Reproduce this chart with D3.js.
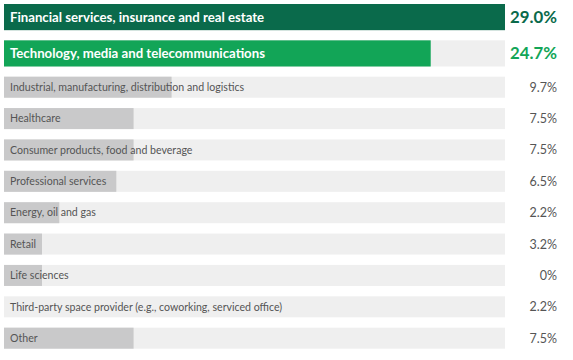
<!DOCTYPE html>
<html>
<head>
<meta charset="utf-8">
<script src="https://cdn.jsdelivr.net/npm/d3@7"></script>
<style>
  html, body { margin: 0; padding: 0; background: #ffffff; }
  svg { display: block; }
</style>
</head>
<body>
<svg id="chart" width="573" height="360"></svg>
<script>
// Categories in display order
const categories = [
  "Financial services, insurance and real estate",
  "Technology, media and telecommunications",
  "Industrial, manufacturing, distribution and logistics",
  "Healthcare",
  "Consumer products, food and beverage",
  "Professional services",
  "Energy, oil and gas",
  "Retail",
  "Life sciences",
  "Third-party space provider (e.g., coworking, serviced office)",
  "Other"
];
// Bar lengths as drawn in the reference (percent)
const barValues = [29.0, 24.7, 9.7, 7.5, 7.5, 6.5, 3.2, 2.2, 2.2, 0, 7.5];
// Value labels as printed in the reference
const valueLabels = ["29.0%", "24.7%", "9.7%", "7.5%", "7.5%", "6.5%", "2.2%", "3.2%", "0%", "2.2%", "7.5%"];
const highlightCount = 2;
const maxValue = 29.0;

const svg = d3.select("#chart");
const FONT = "Lato, 'Open Sans', sans-serif";

const x = d3.scaleLinear().domain([0, maxValue]).range([4, 505]);

const majorCats = categories.slice(0, highlightCount);
const minorCats = categories.slice(highlightCount);

const yMajor = d3.scaleBand().domain(majorCats).range([4, 66.5]).paddingInner(0.28).paddingOuter(0);
const yMinor = d3.scaleBand().domain(minorCats).range([76.7, 348.7]).paddingInner(0.33).paddingOuter(0);

const rows = categories.map((c, i) => {
  const major = i < highlightCount;
  const yS = major ? yMajor : yMinor;
  return {
    cat: c, value: barValues[i], label: valueLabels[i], major, i,
    y: yS(c), h: yS.bandwidth()
  };
});

const barFill = d => d.i === 0 ? "#0a6a4b" : (d.i === 1 ? "#12a557" : "#c9c9ca");
const labelFill = d => d.i === 0 ? "#0a6a4b" : (d.i === 1 ? "#12a557" : "#555555");

const g = svg.append("g");

// background tracks
g.selectAll("rect.track").data(rows).join("rect")
  .attr("class", "track")
  .attr("x", x(0)).attr("y", d => d.y)
  .attr("width", x(maxValue) - x(0)).attr("height", d => d.h)
  .attr("fill", "#efefef");

// value bars
g.selectAll("rect.bar").data(rows).join("rect")
  .attr("class", "bar")
  .attr("x", x(0)).attr("y", d => d.y)
  .attr("width", d => x(d.value) - x(0)).attr("height", d => d.h)
  .attr("fill", barFill);

// category labels inside bars
g.selectAll("text.cat").data(rows).join("text")
  .attr("class", "cat")
  .attr("x", 10)
  .attr("y", d => d.y + d.h / 2)
  .attr("dy", "0.35em")
  .attr("font-family", FONT)
  .attr("font-size", d => d.major ? 13.2 : 10.6)
  .attr("font-weight", d => d.major ? 700 : 400)
  .attr("fill", d => d.major ? "#ffffff" : "#555555")
  .text(d => d.cat);

// value labels on the right
g.selectAll("text.val").data(rows).join("text")
  .attr("class", "val")
  .attr("x", 557)
  .attr("y", d => d.y + d.h / 2)
  .attr("dy", "0.36em")
  .attr("text-anchor", "end")
  .attr("font-family", FONT)
  .attr("font-size", d => d.major ? 16.8 : 12.5)
  .attr("font-weight", d => d.major ? 700 : 400)
  .attr("fill", labelFill)
  .text(d => d.label);
</script>
</body>
</html>
